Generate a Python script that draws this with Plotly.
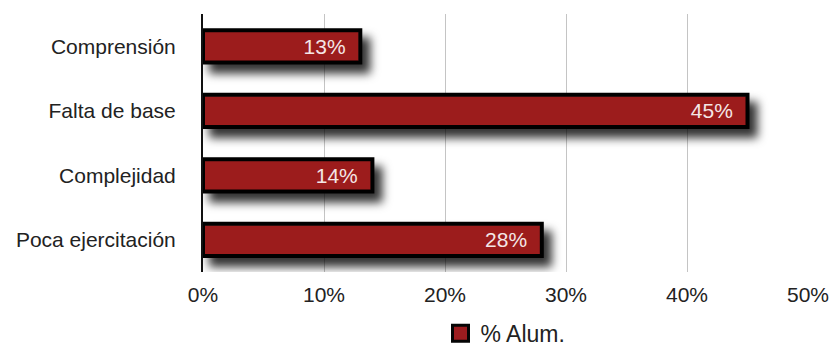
import plotly.graph_objects as go

# Causas de dificultad y porcentaje de alumnos
causas = ["Comprensión", "Falta de base", "Complejidad", "Poca ejercitación"]
porcentajes = [13, 45, 14, 28]
ticks_x = [0, 10, 20, 30, 40, 50]
serie = "% Alum."

BAR_RED = "#9c1c1f"
FONT = "Liberation Sans, Arial, Helvetica, sans-serif"

fig = go.Figure()

fig.add_trace(go.Bar(
    x=porcentajes,
    y=causas,
    orientation="h",
    name=serie,
    showlegend=False,
    marker=dict(color=BAR_RED, line=dict(color="#050505", width=4)),
    width=0.5,
    text=[f"{v}%\u00a0\u00a0" for v in porcentajes],
    textposition="inside",
    insidetextanchor="end",
    textfont=dict(family=FONT, size=21, color="#f4e6e6"),
    cliponaxis=False,
))

# legend entry with a larger square swatch
fig.add_trace(go.Scatter(
    x=[None], y=[None],
    mode="markers",
    name=serie,
    marker=dict(symbol="square", size=20, color=BAR_RED,
                line=dict(color="#050505", width=3)),
))

fig.update_layout(
    width=830, height=349,
    margin=dict(l=203, r=22, t=14, b=77, autoexpand=False),
    paper_bgcolor="white",
    plot_bgcolor="white",
    font=dict(family=FONT, size=21, color="#222222"),
    showlegend=True,
    legend=dict(orientation="h", x=0.5, xanchor="center",
                y=-0.238, yanchor="middle",
                font=dict(family=FONT, size=23, color="#222222"),
                bgcolor="rgba(0,0,0,0)",
                itemsizing="trace"),
    uniformtext=dict(mode="show", minsize=10),
)

fig.update_xaxes(
    range=[0, 50],
    tickvals=ticks_x,
    ticktext=[f"{t}%" for t in ticks_x],
    showgrid=True, gridcolor="#c4c4c4", gridwidth=1,
    zeroline=False,
    showline=False,
    ticks="",
    ticklabelstandoff=8,
    tickfont=dict(family=FONT, size=21, color="#222222"),
    automargin=False,
    fixedrange=True,
)

fig.update_yaxes(
    categoryorder="array",
    categoryarray=causas,
    autorange="reversed",
    showgrid=False,
    showline=True, linecolor="#111111", linewidth=2,
    ticks="",
    ticklabelstandoff=21,
    tickfont=dict(family=FONT, size=21, color="#222222"),
    automargin=False,
    fixedrange=True,
)

# soft drop shadow under the bars
shadow_js = """
var gd = document.getElementById('{plot_id}');
var svg = gd.querySelector('svg.main-svg');
var ns = 'http://www.w3.org/2000/svg';
var defs = svg.querySelector('defs') || svg.insertBefore(document.createElementNS(ns, 'defs'), svg.firstChild);
var f = document.createElementNS(ns, 'filter');
f.setAttribute('id', 'barshadow');
f.setAttribute('x', '-20%'); f.setAttribute('y', '-100%');
f.setAttribute('width', '160%'); f.setAttribute('height', '320%');
var ds = document.createElementNS(ns, 'feDropShadow');
ds.setAttribute('dx', '8'); ds.setAttribute('dy', '9');
ds.setAttribute('stdDeviation', '5');
ds.setAttribute('flood-color', '#000');
ds.setAttribute('flood-opacity', '0.8');
f.appendChild(ds);
defs.appendChild(f);
gd.querySelectorAll('.trace.bars .point path').forEach(function (p) {
  p.setAttribute('filter', 'url(#barshadow)');
});
"""

fig.write_html("out.html", post_script=shadow_js)
